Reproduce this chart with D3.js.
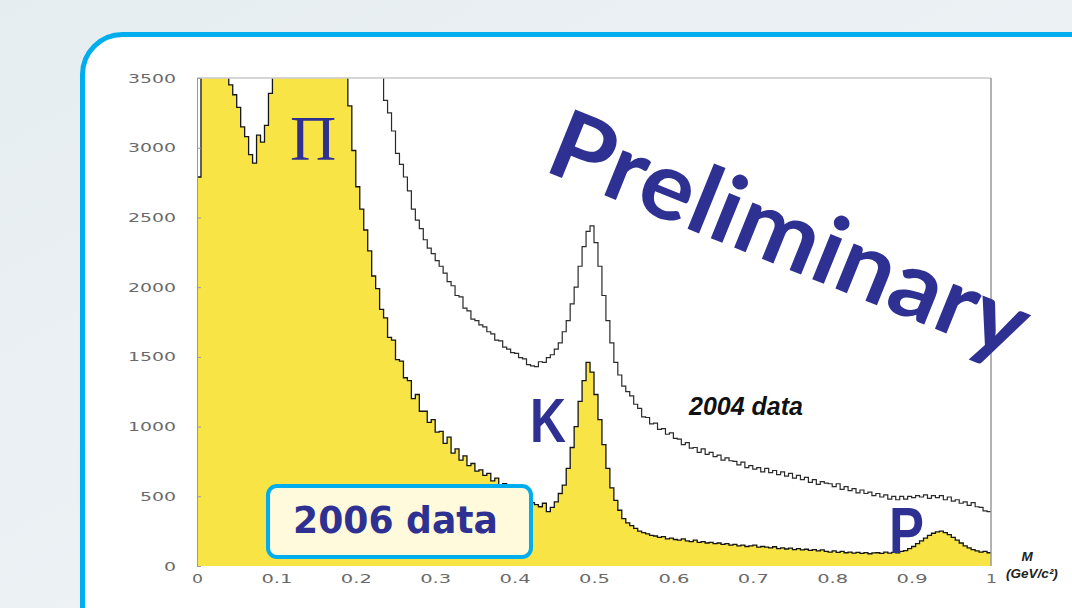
<!DOCTYPE html>
<html lang="en">
<head>
  <meta charset="UTF-8" />
  <title>invariant mass spectrum</title>
  <script src="https://d3js.org/d3.v7.min.js" charset="utf-8"></script>
  <style>
    body { margin: 0; background: #eef2f5; }
    svg { display: block; }
    .tick text { font-family: "DejaVu Sans", sans-serif; font-size: 12.5px; fill: #6a6a6a; }
  </style>
</head>
<body>
<script type="text/javascript">

const WIDTH = 1072;
const HEIGHT = 608;

// histogram bins, 0.005 GeV/c2 each, 0 .. 1
const binWidth = 0.005;

// 2006 data (yellow, filled)
const counts2006 = [
  2790,3900,4300,4600,4800,4900,4700,4200,3450,3380,
  3290,3150,3080,2950,2890,3090,3040,3160,3390,3800,
  4200,4600,5000,5300,5500,5600,5600,5500,5300,5100,
  4900,4700,4500,4300,4100,3950,3800,3650,3300,2980,
  2720,2560,2410,2260,2080,1990,1840,1780,1640,1620,
  1480,1470,1350,1330,1200,1230,1110,1110,1030,1050,
  960,965,880,925,810,840,760,790,720,735,
  680,690,650,665,610,630,575,590,540,560,
  505,530,485,500,455,440,425,450,390,420,
  460,520,580,700,850,1000,1180,1330,1460,1390,
  1230,1050,870,700,560,470,400,340,310,290,
  270,250,240,230,220,215,205,210,195,200,
  190,185,195,180,175,185,170,175,165,170,
  160,165,155,160,150,155,145,150,140,145,
  150,135,140,135,130,138,125,130,122,128,
  118,125,115,120,112,118,108,115,105,100,
  108,98,105,95,100,92,98,90,96,88,
  94,95,90,100,92,98,95,105,110,125,
  140,160,180,200,220,235,245,250,240,225,
  205,185,165,145,130,118,108,100,105,95
];

// 2004 data (black outline only)
const counts2004 = [
  6000,6200,6400,6500,6600,6600,6500,6400,6300,6200,
  6100,6000,5900,5800,5700,5600,5500,5400,5300,5200,
  5100,5000,4900,4800,4700,4600,4500,4400,4300,4250,
  4200,4150,4100,4050,4000,3950,3900,3860,3820,3790,
  3760,3730,3700,3680,3650,3620,3580,3340,3250,3120,
  2960,2880,2790,2690,2560,2480,2420,2340,2280,2240,
  2190,2150,2100,2040,2010,1940,1930,1850,1830,1770,
  1760,1730,1715,1680,1665,1620,1615,1570,1555,1530,
  1525,1495,1485,1445,1435,1430,1465,1460,1495,1515,
  1555,1600,1680,1760,1880,2000,2150,2290,2400,2440,
  2320,2150,1940,1760,1600,1460,1370,1290,1250,1220,
  1160,1130,1070,1065,1020,1025,980,985,945,955,
  915,910,870,885,845,850,815,840,800,815,
  785,795,760,775,755,750,725,745,705,720,
  695,705,675,700,670,685,655,675,645,665,
  630,650,620,635,600,620,585,605,595,590,
  570,590,550,570,540,555,525,545,520,530,
  505,520,495,510,480,500,475,500,480,500,
  490,505,495,510,485,505,490,505,475,495,
  465,475,450,460,435,455,425,420,395,390
];

const yTicks = [0, 500, 1000, 1500, 2000, 2500, 3000, 3500];
const xTicks = [0, 0.1, 0.2, 0.3, 0.4, 0.5, 0.6, 0.7, 0.8, 0.9, 1];
const xTickLabels = ["0", "0.1", "0.2", "0.3", "0.4", "0.5", "0.6", "0.7", "0.8", "0.9", "1"];

const BLUE = "#2e3192";
const CYAN = "#00aeef";

var svg = d3.select("body")
  .append("svg")
    .attr("width", WIDTH)
    .attr("height", HEIGHT);

var defs = svg.append("defs");
var grad = defs.append("linearGradient")
    .attr("id", "bg").attr("x1", 0).attr("y1", 0).attr("x2", 1).attr("y2", 1);
grad.append("stop").attr("offset", 0).attr("stop-color", "#e6edf1");
grad.append("stop").attr("offset", 1).attr("stop-color", "#f2f5f7");

svg.append("rect").attr("width", WIDTH).attr("height", HEIGHT).attr("fill", "url(#bg)");

// white card with cyan border
svg.append("rect")
    .attr("x", 82.5).attr("y", 34.5)
    .attr("width", 1040).attr("height", 640)
    .attr("rx", 40)
    .attr("fill", "#ffffff")
    .attr("stroke", CYAN)
    .attr("stroke-width", 5);

// scales
const xScale = d3.scaleLinear().domain([0, 1]).range([197, 991]);
const yScale = d3.scaleLinear().domain([0, 3500]).range([566, 78]);

defs.append("clipPath").attr("id", "plotclip")
  .append("rect")
    .attr("x", xScale(0)).attr("y", yScale(3500))
    .attr("width", xScale(1) - xScale(0))
    .attr("height", yScale(0) - yScale(3500));

function binPoints(counts) {
  var pts = counts.map((v, i) => [i * binWidth, v]);
  pts.push([1, counts[counts.length - 1]]);
  return pts;
}

var area = d3.area()
    .x(d => xScale(d[0]))
    .y0(yScale(0))
    .y1(d => yScale(d[1]))
    .curve(d3.curveStepAfter);

var line = d3.line()
    .x(d => xScale(d[0]))
    .y(d => yScale(d[1]))
    .curve(d3.curveStepAfter);

var plot = svg.append("g").attr("clip-path", "url(#plotclip)");

plot.append("path")
    .datum(binPoints(counts2006))
    .attr("fill", "#f8e545")
    .attr("d", area);

plot.append("path")
    .datum([[0, 0]].concat(binPoints(counts2006)))
    .attr("fill", "none")
    .attr("stroke", "#151515")
    .attr("stroke-width", 1.3)
    .attr("d", line);

plot.append("path")
    .datum([[0, 0]].concat(binPoints(counts2004)))
    .attr("fill", "none")
    .attr("stroke", "#2a2a2a")
    .attr("stroke-width", 1.2)
    .attr("d", line);

// frame: top and right
svg.append("line")
    .attr("x1", xScale(0)).attr("x2", xScale(1))
    .attr("y1", yScale(3500)).attr("y2", yScale(3500))
    .attr("stroke", "#c8c8c8").attr("stroke-width", 1.5);
svg.append("line")
    .attr("x1", xScale(1)).attr("x2", xScale(1))
    .attr("y1", yScale(3500)).attr("y2", yScale(0))
    .attr("stroke", "#999").attr("stroke-width", 1.5);

// y axis
svg.append("g")
    .attr("transform", `translate(${xScale(0)}, 0)`)
    .call(d3.axisLeft(yScale)
        .tickValues(yTicks)
        .tickSizeInner(-4)
        .tickSizeOuter(0)
        .tickPadding(21)
        .tickFormat(d3.format("d")))
    .call(g => g.select(".domain").attr("stroke", "#999"))
    .call(g => g.selectAll(".tick line").attr("stroke", "#999"))
    .call(g => g.selectAll(".tick text")
        .attr("textLength", d => String(d).length * 12)
        .attr("lengthAdjust", "spacingAndGlyphs"));

// x axis
svg.append("g")
    .attr("transform", `translate(0, ${yScale(0)})`)
    .call(d3.axisBottom(xScale)
        .tickValues(xTicks)
        .tickSize(0)
        .tickPadding(8)
        .tickFormat((d, i) => xTickLabels[i]))
    .call(g => g.select(".domain").remove())
    .call(g => g.selectAll(".tick text")
        .attr("textLength", (d, i) => xTickLabels[i].length > 1 ? 31 : 11)
        .attr("lengthAdjust", "spacingAndGlyphs"));

// axis title
var axTitle = svg.append("text")
    .attr("font-family", "Liberation Sans, Arial, sans-serif")
    .attr("font-weight", "bold")
    .attr("font-style", "italic")
    .attr("font-size", 13.5)
    .attr("fill", "#222")
    .attr("text-anchor", "middle");
axTitle.append("tspan").attr("x", 1027).attr("y", 561).text("M");
axTitle.append("tspan").attr("x", 1032).attr("y", 578).text("(GeV/c²)");

// annotations
svg.append("text")
    .attr("x", 290).attr("y", 160)
    .attr("font-family", "Liberation Serif, Times New Roman, serif")
    .attr("font-size", 64)
    .attr("fill", BLUE)
    .text("Π");

svg.append("text")
    .attr("x", 530).attr("y", 442)
    .attr("font-family", "Liberation Sans, Arial, sans-serif")
    .attr("font-weight", "bold")
    .attr("font-size", 63)
    .attr("textLength", 36)
    .attr("lengthAdjust", "spacingAndGlyphs")
    .attr("fill", BLUE)
    .text("K");

svg.append("text")
    .attr("x", 889).attr("y", 553)
    .attr("font-family", "Liberation Sans, Arial, sans-serif")
    .attr("font-weight", "bold")
    .attr("font-size", 64)
    .attr("textLength", 35)
    .attr("lengthAdjust", "spacingAndGlyphs")
    .attr("fill", BLUE)
    .text("P");

svg.append("text")
    .attr("x", 689).attr("y", 415)
    .attr("font-family", "Liberation Sans, Arial, sans-serif")
    .attr("font-weight", "bold")
    .attr("font-style", "italic")
    .attr("font-size", 25)
    .attr("fill", "#111")
    .text("2004 data");

// 2006 legend box
svg.append("rect")
    .attr("x", 268).attr("y", 486)
    .attr("width", 263).attr("height", 71)
    .attr("rx", 9)
    .attr("fill", "#fffadc")
    .attr("stroke", CYAN)
    .attr("stroke-width", 4);
svg.append("text")
    .attr("x", 293).attr("y", 533)
    .attr("font-family", "DejaVu Sans, sans-serif")
    .attr("font-weight", "bold")
    .attr("font-size", 38)
    .attr("textLength", 205)
    .attr("lengthAdjust", "spacingAndGlyphs")
    .attr("fill", BLUE)
    .text("2006 data");

// watermark
svg.append("text")
    .attr("transform", "translate(542, 170) rotate(22)")
    .attr("font-family", "Comic Sans MS, Lato, sans-serif")
    .attr("font-weight", "bold")
    .attr("font-size", 95)
    .attr("textLength", 508)
    .attr("lengthAdjust", "spacingAndGlyphs")
    .attr("fill", BLUE)
    .text("Preliminary");

</script>
</body>
</html>
